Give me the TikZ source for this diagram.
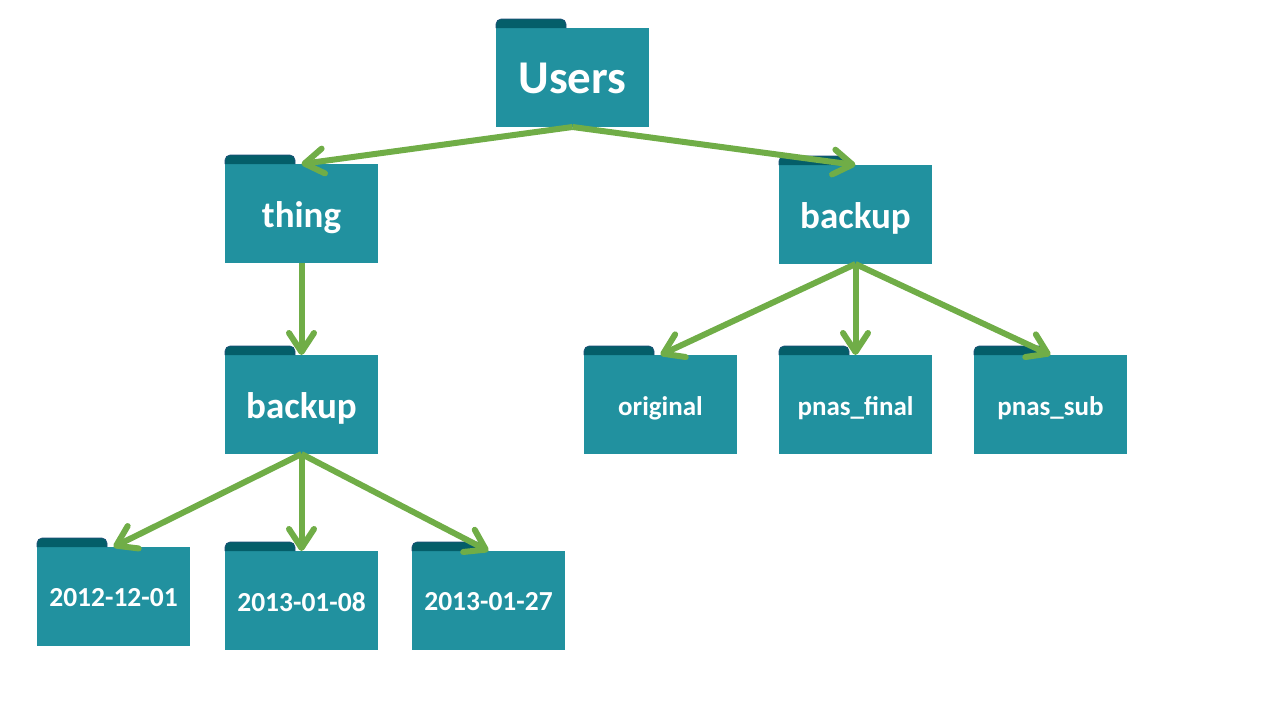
\documentclass[tikz,border=0pt]{standalone}
\usepackage{fontspec}
\setmainfont{Carlito}
\usetikzlibrary{arrows.meta}

\definecolor{folderteal}{HTML}{21919F}
\definecolor{tabteal}{HTML}{045E69}
\definecolor{tabedge}{HTML}{1F4E79}
\definecolor{linkgreen}{HTML}{70AD47}

\tikzset{
    folder/.style={fill=folderteal,text=white,minimum width=153pt,minimum height=99pt,inner sep=0pt,outer sep=0pt,text depth=0pt,font=\bfseries},
    foldertab/.style={fill=tabteal,draw=tabedge,line width=0.6pt},
    link/.style={draw=linkgreen,line width=6pt,-{Straight Barb[length=19pt,width=25pt,round]}}
}

\begin{document}
\begin{tikzpicture}[x=1pt,y=-1pt]
        \useasboundingbox (0,0) rectangle (1280,720);
        % folders: name/x/y/size/text
        \foreach \name/\x/\y/\size/\txt in {
            users/572.5/77.5/47/Users,
            thing/301.5/213.5/37/thing,
            backupr/855.5/214.5/37/backup,
            backupl/301.5/404.5/37/backup,
            original/660.5/404.5/27/original,
            pnasfinal/855.5/404.5/27/pnas\_final,
            pnassub/1050.5/404.5/27/pnas\_sub,
            dayone/113.5/596.5/27.5/2012-12-01,
            daytwo/301.5/600.5/27.5/2013-01-08,
            daythree/488.5/600.5/27.5/2013-01-27} {
            \node[folder] (\name) at (\x,\y) {\fontsize{\size}{\size}\selectfont\raisebox{-2.5pt}{\txt}};
            \path[foldertab] (\name.north west) [rounded corners=5pt] -- ++(0,-9) -- ++(70,0) -- ++(0,9);
        }
        % links
        \foreach \from/\to in {users/thing,users/backupr,thing/backupl,backupr/original,backupr/pnasfinal,backupr/pnassub,backupl/dayone,backupl/daytwo,backupl/daythree} {
            \draw[link] (\from.south) -- (\to.north);
        }
\end{tikzpicture}
\end{document}
